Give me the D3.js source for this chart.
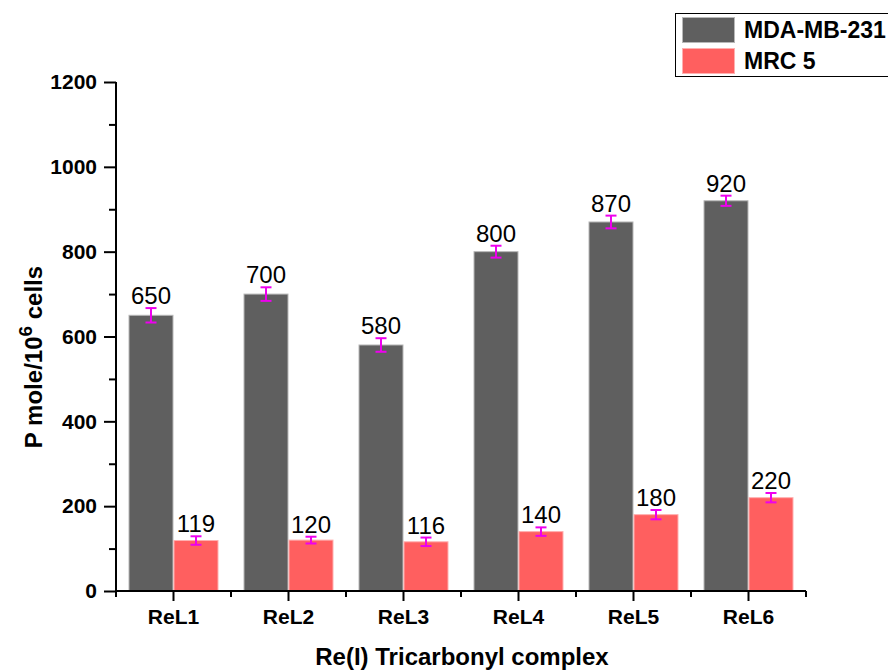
<!DOCTYPE html>
<html>
<head>
<meta charset="utf-8">
<script src="https://cdn.jsdelivr.net/npm/d3@7/dist/d3.min.js"></script>
<style>
  html, body { margin: 0; padding: 0; background: #fff; }
  svg { display: block; font-family: "Liberation Sans", Arial, sans-serif; }
</style>
</head>
<body>
<svg id="chart" width="888" height="671"></svg>
<script>
// Re(I) tricarbonyl complex uptake data
const categories = ["ReL1", "ReL2", "ReL3", "ReL4", "ReL5", "ReL6"];
const seriesNames = ["MDA-MB-231", "MRC 5"];
const mdaValues = [650, 700, 580, 800, 870, 920];
const mdaErrors = [17, 16, 16, 14, 15, 12];
const mrcValues = [119, 120, 116, 140, 180, 220];
const mrcErrors = [10, 8, 10, 10, 11, 11];
const yTicks = [0, 200, 400, 600, 800, 1000, 1200];
const yMinorTicks = [100, 300, 500, 700, 900, 1100];

const colors = { fill: ["#5f5f5f", "#ff5f5f"], stroke: ["#b8b8b8", "#ffb0b0"] };
const errColor = "#ee00ee";

const svg = d3.select("#chart");
const plot = { left: 116, right: 806, top: 82, bottom: 591 };

const x = d3.scaleBand().domain(categories).range([plot.left, plot.right]).padding(0);
const y = d3.scaleLinear().domain([0, 1200]).range([plot.bottom, plot.top]);
const barW = 45;

const rows = categories.map((c, i) => ({
  cat: c,
  vals: [
    { s: 0, v: mdaValues[i], e: mdaErrors[i] },
    { s: 1, v: mrcValues[i], e: mrcErrors[i] }
  ]
}));

// bars
const groups = svg.append("g").selectAll("g").data(rows).join("g");
const barX = (d, cat) => x(cat) + x.bandwidth() / 2 + (d.s === 0 ? -barW : 0);

groups.each(function (row) {
  const g = d3.select(this);
  g.selectAll("rect").data(row.vals).join("rect")
    .attr("x", d => barX(d, row.cat) + 0.5)
    .attr("y", d => y(d.v))
    .attr("width", barW - 1)
    .attr("height", d => y(0) - y(d.v))
    .attr("fill", d => colors.fill[d.s])
    .attr("stroke", d => colors.stroke[d.s])
    .attr("stroke-width", 1);

  // error bars
  const eb = g.selectAll("g.err").data(row.vals).join("g").attr("class", "err")
    .attr("stroke", errColor).attr("stroke-width", 2);
  const cx = d => barX(d, row.cat) + barW / 2;
  eb.append("line").attr("x1", cx).attr("x2", cx)
    .attr("y1", d => y(d.v + d.e)).attr("y2", d => y(d.v - d.e));
  eb.append("line").attr("x1", d => cx(d) - 5.5).attr("x2", d => cx(d) + 5.5)
    .attr("y1", d => y(d.v + d.e)).attr("y2", d => y(d.v + d.e));
  eb.append("line").attr("x1", d => cx(d) - 5.5).attr("x2", d => cx(d) + 5.5)
    .attr("y1", d => y(d.v - d.e)).attr("y2", d => y(d.v - d.e));

  // value labels
  g.selectAll("text.val").data(row.vals).join("text").attr("class", "val")
    .attr("x", d => cx(d))
    .attr("y", d => y(d.v + d.e) - 4)
    .attr("text-anchor", "middle")
    .attr("font-size", 24)
    .attr("fill", "#000")
    .text(d => d.v);
});

// y axis
const yAxis = svg.append("g").attr("transform", `translate(${plot.left},0)`)
  .call(d3.axisLeft(y).tickValues(yTicks).tickSize(12).tickPadding(7).tickFormat(d3.format("d")));
svg.append("g").attr("transform", `translate(${plot.left},0)`)
  .call(d3.axisLeft(y).tickValues(yMinorTicks).tickSize(7).tickFormat(""))
  .select(".domain").remove();

// x axis
const xAxis = svg.append("g").attr("transform", `translate(0,${plot.bottom})`)
  .call(d3.axisBottom(x).tickSize(10).tickPadding(8));
const bounds = d3.range(categories.length + 1).map(i => plot.left + i * x.bandwidth());
svg.append("g").selectAll("line").data(bounds).join("line")
  .attr("x1", d => d).attr("x2", d => d)
  .attr("y1", plot.bottom).attr("y2", plot.bottom + 6)
  .attr("stroke", "#000").attr("stroke-width", 2);

[yAxis, xAxis].forEach(a => {
  a.selectAll("path.domain").attr("stroke", "#000").attr("stroke-width", 2);
  a.selectAll("text").attr("font-family", "Liberation Sans, Arial, sans-serif")
    .attr("font-weight", "bold").attr("fill", "#000");
});
yAxis.select("path.domain").attr("d", `M0,${plot.bottom}V${plot.top}`);
xAxis.select("path.domain").attr("d", `M${plot.left},0H${plot.right}`);
svg.selectAll(".tick line").attr("stroke", "#000").attr("stroke-width", 2);
yAxis.selectAll("text").attr("font-size", 21);
xAxis.selectAll("text").attr("font-size", 21);

// axis titles
svg.append("text")
  .attr("x", 462).attr("y", 665)
  .attr("text-anchor", "middle")
  .attr("font-size", 24).attr("font-weight", "bold")
  .text("Re(I) Tricarbonyl complex");

const yt = svg.append("text")
  .attr("transform", "translate(42,357) rotate(-90)")
  .attr("text-anchor", "middle")
  .attr("font-size", 24).attr("font-weight", "bold");
yt.append("tspan").text("P mole/10");
yt.append("tspan").attr("dy", -10).attr("font-size", 19).text("6");
yt.append("tspan").attr("dy", 10).text(" cells");

// legend
const lg = svg.append("g");
lg.append("rect").attr("x", 675.5).attr("y", 13.5).attr("width", 230).attr("height", 63)
  .attr("fill", "#fff").attr("stroke", "#000").attr("stroke-width", 1);
seriesNames.forEach((name, i) => {
  const yy = 17 + i * 31;
  lg.append("rect").attr("x", 682.5).attr("y", yy + 0.5).attr("width", 52).attr("height", 25)
    .attr("fill", colors.fill[i]).attr("stroke", colors.stroke[i]);
  lg.append("text").attr("x", 744).attr("y", yy + 21)
    .attr("font-size", 23).attr("font-weight", "bold").text(name);
});
</script>
</body>
</html>
